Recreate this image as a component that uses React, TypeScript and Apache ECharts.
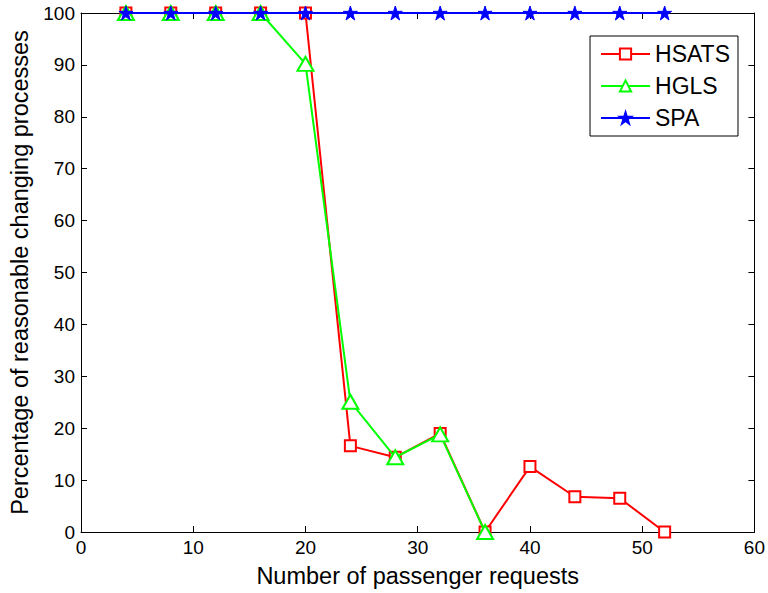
import React, { useEffect, useRef } from "react";
import * as echarts from "echarts";

const requests = [4, 8, 12, 16, 20, 24, 28, 32, 36, 40, 44, 48, 52];
const hsats = [100, 100, 100, 100, 100, 16.6, 14.4, 19.0, 0, 12.6, 6.8, 6.5, 0];
const hgls = [100, 100, 100, 100, 90.2, 25.1, 14.4, 18.8, 0];
const spa = [100, 100, 100, 100, 100, 100, 100, 100, 100, 100, 100, 100, 100];

const STAR =
  "path://M50,0 L61.8,35.4 L99,35.4 L68.9,57.3 L80.4,92.7 L50,70.8 L19.6,92.7 L31.1,57.3 L1,35.4 L38.2,35.4 Z";

const FONT = "Liberation Sans";

export default function App() {
  const ref = useRef<HTMLDivElement>(null);
  useEffect(() => {
    const chart = echarts.init(ref.current!, null, { renderer: "svg" });
    const pairs = (ys: number[]) => ys.map((y, i) => [requests[i], y]);
    const axisCommon = {
      min: 0,
      axisLine: { show: true, onZero: false, lineStyle: { color: "#000", width: 1 } },
      axisTick: { show: true, inside: true, length: 6, lineStyle: { color: "#000" } },
      splitLine: { show: false },
    };
    chart.setOption({
      animation: false,
      backgroundColor: "#fff",
      grid: { left: 81, right: 13, top: 13, bottom: 61, containLabel: false },
      xAxis: [
        {
          ...axisCommon,
          type: "value",
          max: 60,
          interval: 10,
          position: "bottom",
          axisLabel: { color: "#000", fontSize: 19, fontFamily: FONT, margin: 6 },
          name: "Number of passenger requests",
          nameLocation: "middle",
          nameGap: 32,
          nameTextStyle: { color: "#000", fontSize: 23.5, fontFamily: FONT },
        },
        {
          ...axisCommon,
          type: "value",
          max: 60,
          interval: 10,
          position: "top",
          axisLabel: { show: false },
        },
      ],
      yAxis: [
        {
          ...axisCommon,
          type: "value",
          max: 100,
          interval: 10,
          position: "left",
          axisLabel: { color: "#000", fontSize: 19, fontFamily: FONT, margin: 6 },
          name: "Percentage of reasonable changing processes",
          nameLocation: "middle",
          nameGap: 48,
          nameTextStyle: { color: "#000", fontSize: 23.5, fontFamily: FONT },
        },
        {
          ...axisCommon,
          type: "value",
          max: 100,
          interval: 10,
          position: "right",
          axisLabel: { show: false },
        },
      ],
      legend: {
        orient: "vertical",
        right: 30,
        top: 36,
        backgroundColor: "#fff",
        borderColor: "#000",
        borderWidth: 1,
        borderRadius: 0,
        padding: [6, 8, 6, 10],
        itemGap: 8,
        itemWidth: 49,
        itemHeight: 14,
        textStyle: { color: "#000", fontSize: 23, fontFamily: FONT, lineHeight: 24 },
        data: ["HSATS", "HGLS", "SPA"],
      },
      series: [
        {
          name: "HSATS",
          type: "line",
          data: pairs(hsats),
          symbol: "emptyRect",
          symbolSize: 11,
          lineStyle: { color: "#ff0000", width: 2 },
          itemStyle: { color: "#ff0000", borderWidth: 2 },
          z: 2,
        },
        {
          name: "HGLS",
          type: "line",
          data: pairs(hgls),
          symbol: "emptyTriangle",
          symbolSize: [16, 14],
          lineStyle: { color: "#00ff00", width: 2 },
          itemStyle: { color: "#00ff00", borderWidth: 2 },
          z: 3,
        },
        {
          name: "SPA",
          type: "line",
          data: pairs(spa),
          symbol: STAR,
          symbolSize: 14,
          lineStyle: { color: "#0000ff", width: 2 },
          itemStyle: { color: "#0000ff", borderColor: "#0000ff", borderWidth: 1 },
          z: 4,
        },
      ],
    });
    return () => chart.dispose();
  }, []);
  return (
    <div
      ref={ref}
      style={{ position: "fixed", left: 0, top: 0, width: 768, height: 593 }}
    />
  );
}
